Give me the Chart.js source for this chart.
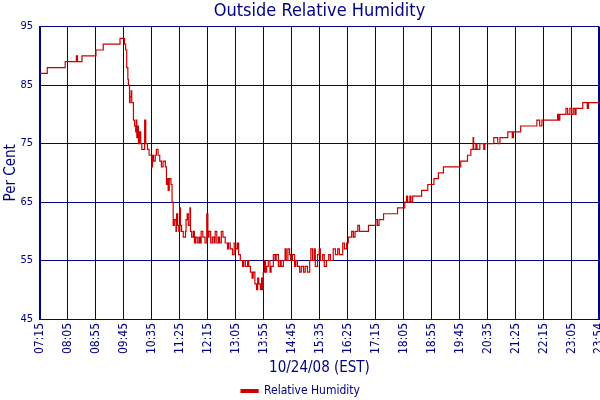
<!DOCTYPE html>
<html><head><meta charset="utf-8">
<script src="https://cdn.jsdelivr.net/npm/chart.js@4"></script>
<style>html,body{margin:0;padding:0;background:#fff;}</style>
</head><body>
<canvas id="c" width="600" height="400"></canvas>
<script>
// Time of each reading (10/24/08, EST)
const times = [
 "07:15","07:28","08:00","08:20","08:22","08:30","08:55","09:08","09:38","09:46",
 "09:48","09:50","09:52","09:53","09:55","09:56","09:58","09:59","10:02","10:04",
 "10:06","10:07","10:08","10:09","10:11","10:13","10:15","10:17","10:22","10:24",
 "10:27","10:30","10:35","10:36","10:38","10:41","10:43","10:46","10:49","10:52",
 "10:55","10:59","11:01","11:02","11:04","11:06","11:09","11:11","11:13","11:15",
 "11:18","11:19","11:21","11:23","11:25","11:26","11:28","11:31","11:35","11:36",
 "11:38","11:40","11:43","11:44","11:46","11:49","11:51","11:53","11:56","11:59",
 "12:01","12:03","12:06","12:10","12:13","12:15","12:17","12:20","12:23","12:26",
 "12:28","12:31","12:34","12:36","12:39","12:42","12:46","12:50","12:52","12:55",
 "12:59","13:02","13:05","13:08","13:10","13:13","13:17","13:19","13:22","13:26",
 "13:28","13:31","13:34","13:36","13:39","13:42","13:44","13:46","13:49","13:51",
 "13:52","13:54","13:56","13:58","14:00","14:03","14:06","14:08","14:12","14:15",
 "14:17","14:21","14:24","14:26","14:30","14:33","14:35","14:38","14:41","14:43",
 "14:46","14:50","14:52","14:55","14:59","15:02","15:06","15:09","15:13","15:17",
 "15:19","15:22","15:25","15:27","15:31","15:34","15:36","15:40","15:43","15:47",
 "15:51","15:54","15:59","16:03","16:07","16:10","16:16","16:19","16:23","16:26",
 "16:32","16:35","16:38","16:43","16:46","17:02","17:15","17:18","17:21","17:29",
 "17:54","18:07","18:10","18:12","18:16","18:18","18:21","18:37","18:48","18:59",
 "19:07","19:16","19:47","19:59","20:05","20:09","20:10","20:14","20:16","20:21",
 "20:28","20:30","20:46","20:53","20:57","21:11","21:19","21:21","21:34","22:03",
 "22:08","22:12","22:40","22:42","22:44","22:55","22:58","23:02","23:05","23:08",
 "23:11","23:13","23:25","23:33","23:35","23:54"
];
// Relative humidity (%) from each reading onward
const humidity = [
 87,88,89,90,89,90,91,92,93,92,
 91,88,86,85,82,83,84,82,79,78,
 77,79,76,78,75,77,75,74,79,75,
 74,73,71,73,72,73,74,73,72,71,
 72,71,68,69,67,69,68,65,61,62,
 60,63,61,60,64,61,60,59,60,62,
 63,61,64,60,59,60,58,59,58,59,
 58,60,59,58,63,59,60,58,59,58,
 60,58,59,58,60,59,58,57,58,57,
 56,58,57,58,56,55,54,55,54,55,
 54,53,52,53,51,50,52,51,50,52,
 50,53,55,53,54,55,53,54,56,55,
 56,54,55,54,55,57,55,57,56,55,
 56,54,55,54,53,54,53,54,53,55,
 57,55,57,54,56,57,55,56,54,55,
 56,55,57,56,57,56,58,57,58,59,
 60,59,60,61,60,61,62,61,62,63,
 64,65,66,65,66,65,66,67,68,69,
 70,71,72,73,74,76,74,75,74,75,
 74,75,76,75,76,77,76,77,78,79,
 78,79,80,79,80,81,80,81,80,81,
 80,81,82,81,82,82
];
const xTickLabels = ["07:15","08:05","08:55","09:45","10:35","11:25","12:15","13:05","13:55","14:45",
 "15:35","16:25","17:15","18:05","18:55","19:45","20:35","21:25","22:15","23:05","23:54"];
const yTicks = [45,55,65,75,85,95];

const NAVY = '#000080';
const RED = '#cc0000';
const FONT = "Tahoma, 'DejaVu Sans Condensed', 'DejaVu Sans', sans-serif";

function toMin(s){ const p = s.split(':').map(Number); return p[0]*60 + p[1] - (7*60 + 15); }
const xTickValues = xTickLabels.map(toMin);

new Chart(document.getElementById('c'), {
  type: 'line',
  data: {
    datasets: [{
      label: 'Relative Humidity',
      data: times.map((t, i) => ({ x: toMin(t), y: humidity[i] })),
      stepped: true,
      borderColor: RED,
      backgroundColor: RED,
      borderWidth: 1.2,
      pointRadius: 0,
      fill: false
    }]
  },
  options: {
    responsive: false,
    animation: false,
    devicePixelRatio: 1,
    layout: { padding: { left: 2, right: 1, top: 0, bottom: -7 } },
    scales: {
      x: {
        type: 'linear',
        min: xTickValues[0],
        max: xTickValues[xTickValues.length - 1],
        afterBuildTicks: a => { a.ticks = xTickValues.map(v => ({ value: v })); },
        afterFit: s => { s.paddingRight = 0; s.paddingLeft = 0; s.height = 60; },
        ticks: {
          autoSkip: false, minRotation: 90, maxRotation: 90, padding: 4,
          color: NAVY, font: { family: FONT, size: 12 },
          callback: (v, i) => xTickLabels[i]
        },
        grid: {
          color: NAVY, drawTicks: false,
          lineWidth: c => (c.index === xTickValues.length - 1 ? 2 : 1)
        },
        border: { color: NAVY, width: 1 },
        title: { display: true, text: '10/24/08 (EST)', color: NAVY,
                 font: { family: FONT, size: 15 }, padding: { top: 4, bottom: 2 } }
      },
      y: {
        min: 45, max: 95,
        afterBuildTicks: a => { a.ticks = yTicks.map(v => ({ value: v })); },
        afterFit: s => { s.width = 38; },
        ticks: { color: NAVY, font: { family: FONT, size: 11 }, padding: 7 },
        grid: { color: NAVY, drawTicks: false, lineWidth: 1 },
        border: { color: NAVY, width: 2 },
        title: { display: true, text: 'Per Cent', color: NAVY,
                 font: { family: FONT, size: 15 }, padding: 0 }
      }
    },
    plugins: {
      title: { display: true, text: 'Outside Relative Humidity', color: NAVY, fullSize: false,
               font: { family: FONT, size: 18, weight: 'normal' }, padding: { top: 1, bottom: 4 } },
      legend: { position: 'bottom',
                labels: { color: NAVY, boxWidth: 17, boxHeight: 3, padding: 6,
                          font: { family: FONT, size: 12 } } },
      tooltip: { enabled: false }
    }
  }
});
</script>
</body></html>
